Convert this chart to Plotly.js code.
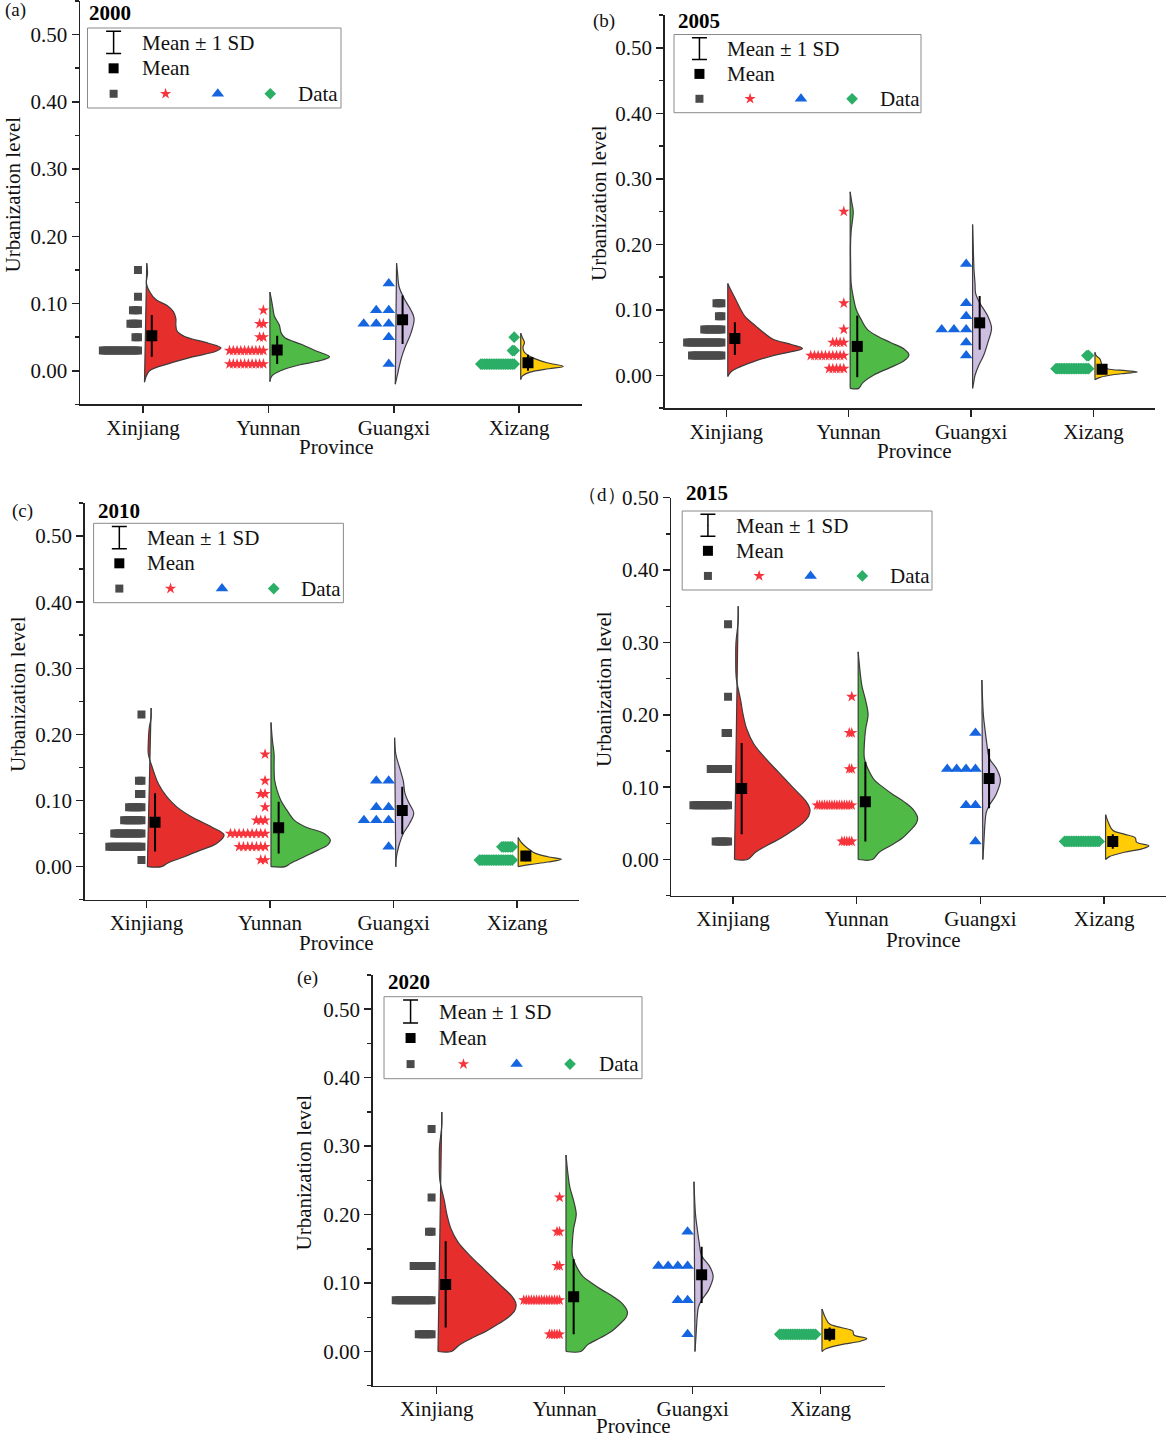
<!DOCTYPE html>
<html>
<head>
<meta charset="utf-8">
<script src="https://cdn.plot.ly/plotly-3.0.1.min.js"></script>
<style>html,body{margin:0;padding:0;background:#fff}#chart{width:1170px;height:1438px}</style>
</head>
<body>
<div id="chart"></div>
<script>
var provinces = ['Xinjiang', 'Yunnan', 'Guangxi', 'Xizang'];
var years = ['2000', '2005', '2010', '2015', '2020'];
var panelTags = ['(a)', '(b)', '(c)', '（d）', '(e)'];

// half violin outlines: y level and width (in category units)
var xj00y = [-0.017,-0.01,0,0.011,0.021,0.029,0.034,0.041,0.051,0.059,0.068,0.078,0.088,0.097,0.106,0.118,0.13,0.145,0.16];
var xj00w = [0,0.01,0.04,0.2,0.39,0.57,0.61,0.51,0.32,0.26,0.25,0.25,0.23,0.18,0.09,0.04,0.015,0.024,0.018];
var yn00y = [-0.016,-0.008,0,0.009,0.016,0.021,0.029,0.039,0.049,0.056,0.068,0.081,0.093,0.106,0.117];
var yn00w = [0,0.015,0.085,0.24,0.42,0.475,0.375,0.255,0.12,0.09,0.075,0.036,0.024,0.012,0];
var gx00y = [-0.02,0,0.02,0.036,0.056,0.078,0.09,0.106,0.125,0.145,0.16];
var gx00w = [0,0.024,0.05,0.08,0.125,0.15,0.125,0.075,0.03,0.018,0.01];
var xz00y = [-0.013,-0.008,-0.002,0.003,0.0065,0.012,0.02,0.0275,0.035,0.042,0.05,0.056];
var xz00w = [0,0.012,0.075,0.225,0.34,0.21,0.09,0.03,0.018,0.03,0.012,0];

var xj05y = [-0.002,0.005,0.012,0.02,0.03,0.036,0.041,0.047,0.055,0.064,0.075,0.09,0.1,0.115,0.13,0.14];
var xj05w = [0,0.025,0.09,0.2,0.37,0.52,0.61,0.52,0.37,0.3,0.23,0.14,0.107,0.067,0.025,0];
var yn05y = [-0.02,-0.02,-0.012,0,0.012,0.022,0.031,0.04,0.05,0.06,0.07,0.085,0.1,0.125,0.14,0.17,0.2,0.22,0.25,0.265,0.28];
var yn05w = [0,0.07,0.1,0.19,0.33,0.44,0.48,0.44,0.33,0.22,0.14,0.09,0.05,0.02,0.008,0.004,0.003,0.008,0.025,0.012,0];
var gx05y = [-0.02,-0.01,0,0.015,0.03,0.05,0.072,0.09,0.11,0.125,0.14,0.16,0.18,0.2,0.23];
var gx05w = [0,0.01,0.02,0.05,0.09,0.125,0.155,0.125,0.06,0.025,0.02,0.012,0.008,0.005,0];
var xz05y = [-0.007,-0.004,0,0.003,0.005,0.007,0.01,0.014,0.02,0.025,0.03,0.035];
var xz05w = [0,0.03,0.12,0.25,0.345,0.25,0.1,0.06,0.05,0.04,0.01,0];

var xj10y = [0,0,0.006,0.015,0.025,0.035,0.048,0.06,0.075,0.09,0.105,0.125,0.15,0.17,0.19,0.21,0.225,0.24];
var xj10w = [0,0.115,0.17,0.3,0.43,0.56,0.62,0.52,0.36,0.24,0.16,0.09,0.04,0.008,0.008,0.015,0.03,0.03];
var yn10y = [0,0,0.005,0.015,0.025,0.033,0.04,0.05,0.06,0.07,0.085,0.1,0.115,0.13,0.15,0.17,0.19,0.218];
var yn10w = [0,0.115,0.16,0.27,0.38,0.46,0.48,0.43,0.28,0.19,0.13,0.08,0.05,0.03,0.025,0.025,0.012,0];
var gx10y = [0,0.01,0.02,0.035,0.05,0.065,0.081,0.095,0.11,0.13,0.15,0.17,0.195];
var gx10w = [0.01,0.012,0.02,0.04,0.07,0.12,0.155,0.12,0.085,0.07,0.04,0.01,0];
var xz10y = [0,0.003,0.007,0.011,0.015,0.02,0.026,0.032,0.038,0.044];
var xz10w = [0,0.09,0.24,0.35,0.24,0.14,0.09,0.05,0.02,0];

var xj15y = [0,0,0.01,0.02,0.03,0.04,0.05,0.06,0.069,0.08,0.1,0.12,0.14,0.16,0.18,0.2,0.22,0.25,0.28,0.3,0.33,0.35];
var xj15w = [0,0.105,0.17,0.27,0.38,0.47,0.55,0.6,0.61,0.58,0.47,0.36,0.25,0.155,0.1,0.07,0.05,0.015,0.01,0.012,0.03,0.03];
var yn15y = [0,0,0.01,0.02,0.03,0.04,0.05,0.058,0.07,0.08,0.09,0.1,0.11,0.125,0.14,0.16,0.18,0.2,0.22,0.24,0.26,0.287];
var yn15w = [0,0.115,0.17,0.27,0.36,0.42,0.47,0.48,0.44,0.37,0.28,0.2,0.13,0.08,0.05,0.05,0.06,0.08,0.06,0.03,0.015,0];
var gx15y = [0,0.02,0.05,0.065,0.075,0.09,0.11,0.125,0.14,0.16,0.18,0.2,0.248];
var gx15w = [0.008,0.015,0.025,0.035,0.06,0.115,0.15,0.12,0.06,0.04,0.025,0.012,0];
var xz15y = [0,0.004,0.01,0.015,0.019,0.024,0.03,0.035,0.04,0.05,0.062];
var xz15w = [0,0.03,0.15,0.3,0.35,0.25,0.24,0.15,0.06,0.025,0];

// 2020 reads the same as 2015 in the figure
var kdeY = [[xj00y,yn00y,gx00y,xz00y],[xj05y,yn05y,gx05y,xz05y],[xj10y,yn10y,gx10y,xz10y],[xj15y,yn15y,gx15y,xz15y],[xj15y,yn15y,gx15y,xz15y]];
var kdeW = [[xj00w,yn00w,gx00w,xz00w],[xj05w,yn05w,gx05w,xz05w],[xj10w,yn10w,gx10w,xz10w],[xj15w,yn15w,gx15w,xz15w],[xj15w,yn15w,gx15w,xz15w]];

// raw points as value levels and how many cities sit on each level
var xj00lv = [0.15,0.11,0.09,0.07,0.05,0.03];  var xj00n = [1,1,3,4,2,15];
var yn00lv = [0.09,0.07,0.05,0.03,0.01];       var yn00n = [1,2,2,10,10];
var gx00lv = [0.13,0.09,0.07,0.05,0.01];       var gx00n = [1,2,3,1,1];
var xz00lv = [0.05,0.03,0.01];                 var xz00n = [1,2,20];

var xj05lv = [0.11,0.09,0.07,0.05,0.03];       var xj05n = [3,2,8,15,13];
var yn05lv = [0.25,0.11,0.07,0.05,0.03,0.01];  var yn05n = [1,1,1,4,10,5];
var gx05lv = [0.17,0.11,0.09,0.07,0.05,0.03];  var gx05n = [1,1,1,3,1,1];
var xz05lv = [0.03,0.01];                      var xz05n = [2,20];

var xj10lv = [0.23,0.13,0.11,0.09,0.07,0.05,0.03,0.01]; var xj10n = [1,2,2,6,8,12,14,1];
var yn10lv = [0.17,0.13,0.11,0.09,0.07,0.05,0.03,0.01]; var yn10n = [1,1,2,1,3,9,7,2];
var gx10lv = [0.13,0.09,0.07,0.03];            var gx10n = [2,2,3,1];
var xz10lv = [0.03,0.01];                      var xz10n = [7,20];

var xj15lv = [0.325,0.225,0.175,0.125,0.075,0.025]; var xj15n = [1,1,2,8,15,6];
var yn15lv = [0.225,0.175,0.125,0.075,0.025];  var yn15n = [1,2,2,15,5];
var gx15lv = [0.175,0.125,0.075,0.025];        var gx15n = [1,4,2,1];
var xz15lv = [0.025];                          var xz15n = [21];

var ptLevels = [[xj00lv,yn00lv,gx00lv,xz00lv],[xj05lv,yn05lv,gx05lv,xz05lv],[xj10lv,yn10lv,gx10lv,xz10lv],[xj15lv,yn15lv,gx15lv,xz15lv],[xj15lv,yn15lv,gx15lv,xz15lv]];
var ptCounts = [[xj00n,yn00n,gx00n,xz00n],[xj05n,yn05n,gx05n,xz05n],[xj10n,yn10n,gx10n,xz10n],[xj15n,yn15n,gx15n,xz15n],[xj15n,yn15n,gx15n,xz15n]];

var means = [[0.052,0.031,0.076,0.012],[0.056,0.044,0.08,0.009],[0.067,0.059,0.085,0.016],[0.098,0.08,0.112,0.025],[0.098,0.08,0.112,0.025]];
var sds = [[0.031,0.021,0.036,0.012],[0.025,0.047,0.041,0.007],[0.044,0.039,0.036,0.008],[0.063,0.055,0.041,0.01],[0.063,0.055,0.041,0.01]];

// panel geometry, page pixels
var W = 1170, H = 1438;
var plotLeft = [80, 664.6, 84.6, 671.4, 372.7];
var plotRight = [582, 1155, 579, 1166.3, 885];
var tick0 = [143, 726.3, 146.4, 733, 436.7];
var tickGap = [125.4, 122.4, 123.6, 123.7, 128];
var plotTop = [1, 15, 503, 497.7, 975];
var plotBottom = [404.4, 408, 899.7, 895.7, 1385.7];
var yMax = [0.55, 0.55, 0.55, 0.5, 0.55];
var baseShift = [0.012, 0.012, 0.008, 0.012, 0.01];
var swarmStep = [[0.02,0.03,0.1,0.014],[0.02,0.03,0.1,0.014],[0.02,0.035,0.1,0.014],[0.02,0.02,0.076,0.014],[0.02,0.02,0.076,0.014]];

var legLeft = [87.5, 674, 93.6, 682.2, 384];
var legRight = [341, 921, 343.4, 932, 642];
var legTop = [28, 34.5, 523.3, 511, 996.7];
var legBottom = [108, 112.7, 602.7, 590, 1078.7];

var tagX = [3, 591, 10, 576, 295];
var tagY = [10, 21, 511, 494, 978];
var yearX = [87, 675.5, 96, 684, 386];
var yearY = [13, 21, 511, 493, 982];
var yTitleX = [12.5, 599, 18, 604, 303];
var yTitleY = [195, 203, 694, 689, 1172.5];
var xTitleX = [336, 914.7, 336, 923, 633];
var xTitleY = [447, 450.7, 942.7, 940, 1426];

var fillColors = ['#e62e2d', '#4fba45', '#cdbde0', '#ffcc05'];
var outlineColor = '#3c3c3c';
var symbols = ['square', 'star', 'triangle-up', 'diamond'];
var symbolColors = ['#4a4a4a', '#f7343c', '#1565e0', '#2bae66'];
var symbolSizes = [8, 8.5, 11, 9];
var serif = 'Liberation Serif, Times New Roman, serif';

var data = [];
var layout = {
    width: W, height: H,
    margin: {l: 0, r: 0, t: 0, b: 0},
    paper_bgcolor: '#fff', plot_bgcolor: 'rgba(0,0,0,0)',
    showlegend: false, hovermode: false,
    font: {family: serif, size: 21, color: '#111'},
    annotations: [], shapes: []
};

function note(text, x, y, anchor, extra) {
    layout.annotations.push(Object.assign({
        text: text, x: x, y: y, xref: 'x6', yref: 'y6', xanchor: anchor, yanchor: 'middle',
        showarrow: false, font: {family: serif, size: 21, color: '#111'}
    }, extra || {}));
}

years.forEach(function (year, p) {
    var xa = 'x' + (p + 1), ya = 'y' + (p + 1);
    layout['xaxis' + (p + 1)] = {
        domain: [plotLeft[p] / W, plotRight[p] / W], anchor: ya,
        range: [(plotLeft[p] - tick0[p]) / tickGap[p], (plotRight[p] - tick0[p]) / tickGap[p]],
        tickmode: 'array', tickvals: [0, 1, 2, 3], ticktext: provinces,
        ticks: 'outside', ticklen: 7, tickwidth: 1.5, tickcolor: '#222',
        showgrid: false, zeroline: false, showline: true, linewidth: 1.5, linecolor: '#222',
        ticklabelstandoff: -3, tickfont: {family: serif, size: 21, color: '#111'}
    };
    layout['yaxis' + (p + 1)] = {
        domain: [1 - plotBottom[p] / H, 1 - plotTop[p] / H], anchor: xa,
        range: [-0.05, yMax[p]], tick0: 0, dtick: 0.1, tickformat: '.2f',
        ticks: 'outside', ticklen: 7, tickwidth: 1.5, tickcolor: '#222',
        minor: {dtick: 0.05, tick0: 0, ticks: 'outside', ticklen: 4, tickwidth: 1.5, tickcolor: '#222', showgrid: false},
        showgrid: false, zeroline: false, showline: true, linewidth: 1.5, linecolor: '#222',
        tickfont: {family: serif, size: 21, color: '#111'}
    };

    provinces.forEach(function (name, c) {
        var base = c + baseShift[p];
        var ys = kdeY[p][c], ws = kdeW[p][c];
        // density curve, the fill closes straight along the base
        data.push({
            type: 'scatter', xaxis: xa, yaxis: ya, mode: 'lines', name: name + ' ' + year,
            x: ws.map(function (w) { return base + w; }), y: ys,
            line: {color: outlineColor, width: 1.2, shape: 'spline', smoothing: 1},
            fill: 'toself', fillcolor: fillColors[c]
        });
        data.push({
            type: 'scatter', xaxis: xa, yaxis: ya, mode: 'lines',
            x: [base + ws[0], base + ws[ws.length - 1]], y: [ys[0], ys[ys.length - 1]],
            line: {color: outlineColor, width: 1.2}
        });

        // stacked points left of the violin
        var px = [], py = [];
        ptLevels[p][c].forEach(function (lv, k) {
            for (var n = 0; n < ptCounts[p][c][k]; n++) {
                px.push(c - 0.04 - n * swarmStep[p][c]);
                py.push(lv);
            }
        });
        data.push({
            type: 'scatter', xaxis: xa, yaxis: ya, mode: 'markers', x: px, y: py,
            marker: {symbol: symbols[c], size: symbolSizes[c], color: symbolColors[c], line: {width: 0}}
        });

        data.push({
            type: 'scatter', xaxis: xa, yaxis: ya, mode: 'markers',
            x: [c + 0.07], y: [means[p][c]],
            marker: {symbol: 'square', size: 11, color: '#000'},
            error_y: {type: 'data', array: [sds[p][c]], width: 0, thickness: 2, color: '#000'}
        });
    });

    // hand built legend box
    var lw = legRight[p] - legLeft[p], lh = legBottom[p] - legTop[p];
    layout.shapes.push({
        type: 'rect', xref: 'x6', yref: 'y6', x0: legLeft[p], x1: legRight[p], y0: legTop[p], y1: legBottom[p],
        line: {color: '#8a8a8a', width: 1}
    });
    var iconX = legLeft[p] + 0.103 * lw;
    var barTop = legTop[p] + 0.04 * lh, barBottom = legTop[p] + 0.32 * lh;
    data.push({
        type: 'scatter', xaxis: 'x6', yaxis: 'y6', mode: 'markers',
        x: [iconX], y: [(barTop + barBottom) / 2], marker: {size: 1, color: '#000'},
        error_y: {type: 'data', array: [(barBottom - barTop) / 2], width: 7.5, thickness: 1.5, color: '#000'}
    });
    data.push({
        type: 'scatter', xaxis: 'x6', yaxis: 'y6', mode: 'markers',
        x: [iconX], y: [legTop[p] + 0.504 * lh], marker: {symbol: 'square', size: 10, color: '#000'}
    });
    [0.103, 0.308, 0.514, 0.721].forEach(function (f, c) {
        data.push({
            type: 'scatter', xaxis: 'x6', yaxis: 'y6', mode: 'markers',
            x: [legLeft[p] + f * lw], y: [legTop[p] + 0.822 * lh],
            marker: {symbol: symbols[c], size: symbolSizes[c], color: symbolColors[c], line: {width: 0}}
        });
    });
    note('Mean ± 1 SD', legLeft[p] + 0.206 * lw, legTop[p] + 0.186 * lh, 'left');
    note('Mean', legLeft[p] + 0.206 * lw, legTop[p] + 0.504 * lh, 'left');
    note('Data', legLeft[p] + 0.824 * lw, legTop[p] + 0.822 * lh, 'left');

    note(panelTags[p], tagX[p], tagY[p], 'left', {font: {family: serif, size: 19, color: '#111'}});
    note('<b>' + year + '</b>', yearX[p], yearY[p], 'left', {font: {family: serif, size: 21, color: '#000'}});
    note('Urbanization level', yTitleX[p], yTitleY[p], 'center', {textangle: -90});
    note('Province', xTitleX[p], xTitleY[p], 'center');
});

// page pixel overlay for the legends and loose labels
layout.xaxis6 = {domain: [0, 1], range: [0, W], anchor: 'y6', visible: false, fixedrange: true};
layout.yaxis6 = {domain: [0, 1], range: [H, 0], anchor: 'x6', visible: false, fixedrange: true};

Plotly.newPlot('chart', data, layout, {displayModeBar: false, staticPlot: true});
</script>
</body>
</html>
